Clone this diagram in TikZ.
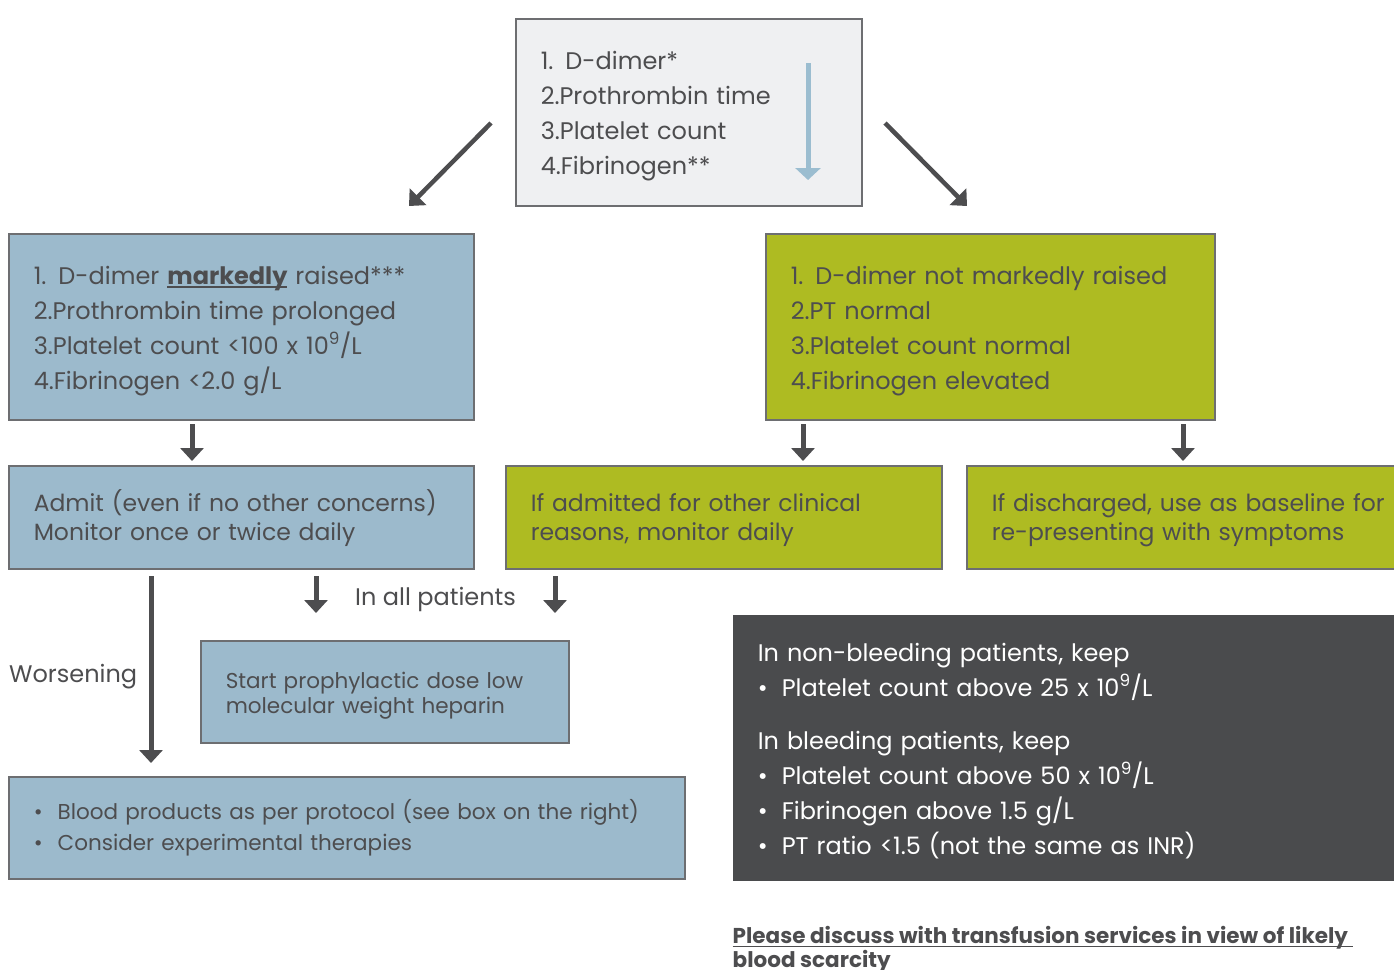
\documentclass[tikz,border=0pt]{standalone}
\usepackage{fontspec}
\setmainfont{Poppins}
\usetikzlibrary{arrows.meta}
\definecolor{txt}{HTML}{4D4D4F}
\definecolor{bord}{HTML}{6D6E71}
\definecolor{bluef}{HTML}{9CBACC}
\definecolor{greenf}{HTML}{AEBB22}
\definecolor{greyf}{HTML}{EFF0F2}
\definecolor{darkf}{HTML}{4A4B4D}
\definecolor{lblue}{HTML}{9BBDD0}
\newcommand\fmain{\fontsize{24}{35}\selectfont}
\newcommand\fmid{\fontsize{23.5}{29}\selectfont}
\newcommand\fsmall{\fontsize{21.5}{25}\selectfont}
\newcommand\fbul{\fontsize{21.5}{31}\selectfont}
\newcommand\fnote{\fontsize{21.5}{24}\selectfont}
\newcommand\bul{\makebox[24pt][l]{•}}
\newcommand\up[1]{\rule{0pt}{#1}}
\newsavebox\ulbox
\newcommand\myul[2][2pt]{\sbox\ulbox{#2}\rlap{\usebox\ulbox}\rlap{\rule[-4pt]{\wd\ulbox}{#1}}\hspace{\wd\ulbox}}
\begin{document}
\begin{tikzpicture}[x=1pt,y=-1pt,
  box/.style={draw=bord, line width=1.5pt, anchor=north west, inner xsep=25pt, inner ysep=0pt, align=left, text=txt},
  bluebox/.style={box, fill=bluef},
  greenbox/.style={box, fill=greenf},
  arr/.style={draw=txt, line width=5pt, -{Triangle[width=23pt,length=13pt]}},
  lbarr/.style={draw=lblue, line width=5pt, -{Triangle[width=25pt,length=12pt]}},
  lbl/.style={text=txt, inner sep=0pt, anchor=west},
]
\useasboundingbox (0,0) rectangle (1394,969);
\clip (0,0) rectangle (1394,969);

% top box
\node[box, fill=greyf, minimum width=346pt, minimum height=187pt, text width=296pt, font=\fmain] (top) at (515,18)
  {\up{26pt}1. D-dimer*\\2.Prothrombin time\\3.Platelet count\\4.Fibrinogen**};
\coordinate (lbs) at (808,63);
\coordinate (lbe) at (808,180);
\draw[lbarr] (lbs) -- (lbe);

% diagonal arrows
\coordinate (dls) at (491,123);
\coordinate (dle) at (409,206);
\coordinate (drs) at (885,123);
\coordinate (dre) at (967,206);
\draw[arr, line width=4.5pt] (dls) -- (dle);
\draw[arr, line width=4.5pt] (drs) -- (dre);

% second row
\node[bluebox, minimum width=465pt, minimum height=186pt, text width=415pt, font=\fmain] (b1) at (8,233)
  {\up{26pt}1. D-dimer \textbf{\myul{markedly}} raised***\\2.Prothrombin time prolonged\\3.Platelet count <100 x 10\textsuperscript{9}/L\\4.Fibrinogen <2.0 g/L};
\node[greenbox, minimum width=449pt, minimum height=186pt, text width=399pt, font=\fmain] (g1) at (765,233)
  {\up{26pt}1. D-dimer not markedly raised\\2.PT normal\\3.Platelet count normal\\4.Fibrinogen elevated};

% arrows down
\coordinate (a1s) at (192,424); \coordinate (a1e) at (192,461);
\coordinate (a2s) at (803,424); \coordinate (a2e) at (803,461);
\coordinate (a3s) at (1183,424); \coordinate (a3e) at (1183,461);
\draw[arr] (a1s) -- (a1e);
\draw[arr] (a2s) -- (a2e);
\draw[arr] (a3s) -- (a3e);

% third row
\node[bluebox, minimum width=465pt, minimum height=103pt, text width=415pt, font=\fmid] (b2) at (8,465)
  {\up{24pt}Admit (even if no other concerns)\\Monitor once or twice daily};
\node[greenbox, minimum width=436pt, minimum height=103pt, text width=386pt, font=\fmid] (g2) at (505,465)
  {\up{24pt}If admitted for other clinical\\reasons, monitor daily};
\node[greenbox, minimum width=450pt, minimum height=103pt, text width=400pt, font=\fmid] (g3) at (966,465)
  {\up{24pt}If discharged, use as baseline for\\re-presenting with symptoms};

% worsening and all patients
\coordinate (ws) at (151,576); \coordinate (we) at (151,763);
\draw[arr] (ws) -- (we);
\node[lbl, font=\fmain] (worse) at (9,677) {Worsening};
\coordinate (p1s) at (316,576); \coordinate (p1e) at (316,613);
\coordinate (p2s) at (555,576); \coordinate (p2e) at (555,613);
\draw[arr] (p1s) -- (p1e);
\draw[arr] (p2s) -- (p2e);
\node[lbl, font=\fmain] (allp) at (355,599) {In all patients};

\node[bluebox, minimum width=368pt, minimum height=102pt, text width=318pt, font=\fsmall] (b3) at (200,640)
  {\up{24pt}Start prophylactic dose low\\molecular weight heparin};

\node[bluebox, minimum width=676pt, minimum height=102pt, text width=626pt, inner xsep=25pt, font=\fbul] (b4) at (8,776)
  {\up{21pt}\bul Blood products as per protocol (see box on the right)\\\bul Consider experimental therapies};

% dark box
\node[box, draw=none, fill=darkf, text=white, minimum width=670pt, minimum height=266pt, text width=620pt, font=\fmain] (dk) at (732,614)
  {\up{24pt}In non-bleeding patients, keep\\\bul Platelet count above 25 x 10\textsuperscript{9}/L\\[18pt]In bleeding patients, keep\\\bul Platelet count above 50 x 10\textsuperscript{9}/L\\\bul Fibrinogen above 1.5 g/L\\\bul PT ratio <1.5 (not the same as INR)};

% note
\node[lbl, anchor=north west, align=left, font=\fnote\bfseries] (note) at (732,923)
  {\up{20pt}\myul[1.5pt]{Please discuss with transfusion services in view of likely\ }\\\myul[1.5pt]{blood scarcity}};
\end{tikzpicture}
\end{document}
